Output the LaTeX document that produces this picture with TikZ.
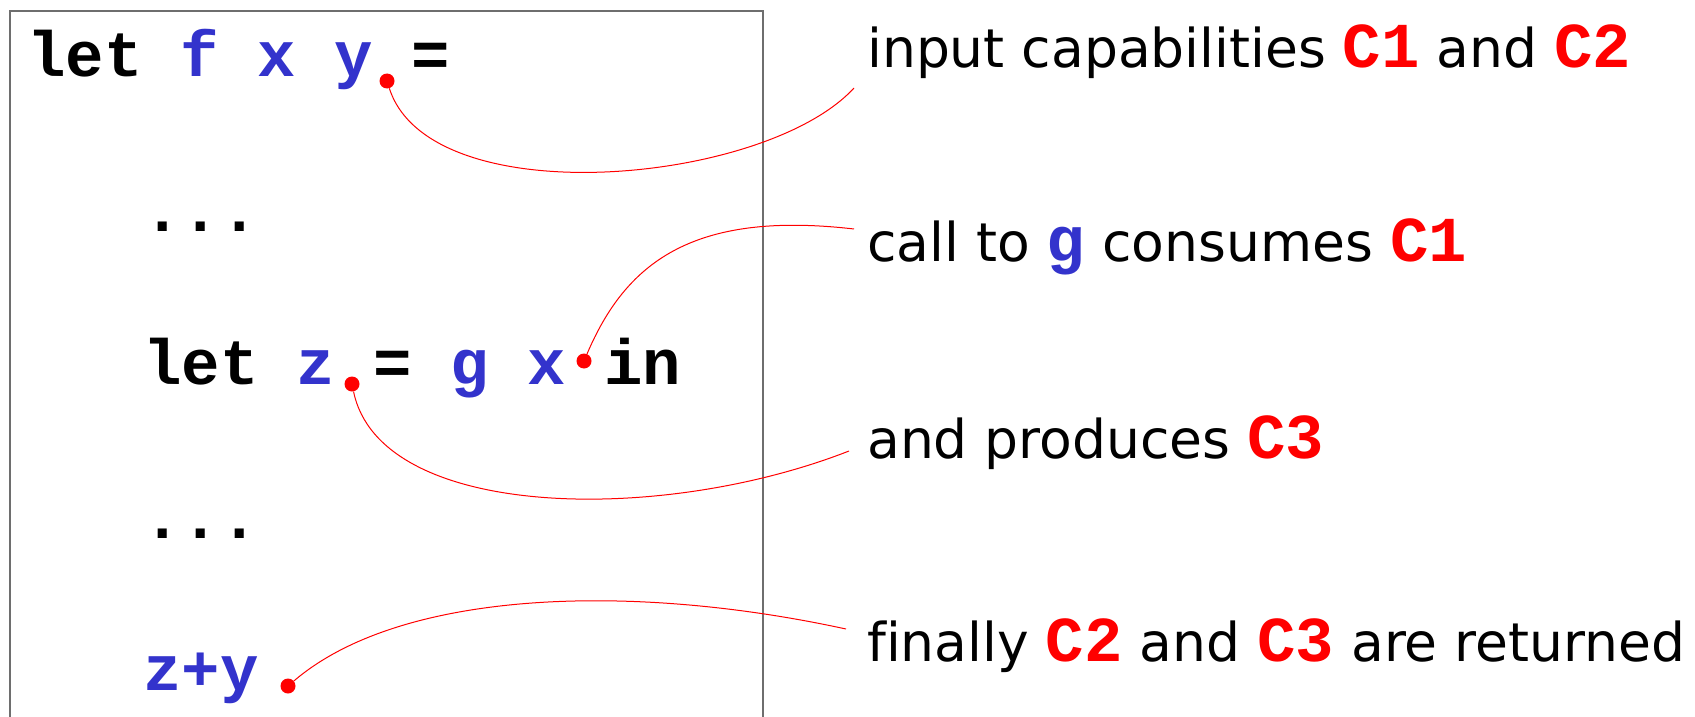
\documentclass[tikz,border=0pt]{standalone}
\usepackage{fontspec}
\setmainfont{DejaVu Sans}[Ligatures=NoCommon]
\newfontfamily\codefont{Liberation Mono}
\definecolor{codeblue}{RGB}{51,51,204}
\definecolor{framegray}{RGB}{110,110,110}
\newcommand\cvar[1]{\textcolor{codeblue}{#1}}
\newcommand\capc[1]{\textcolor{red}{\codefont\bfseries\fontsize{64}{70}\selectfont #1}}
\begin{document}
\begin{tikzpicture}[x=1pt,y=-1pt,
  code/.style={anchor=base west, inner sep=0pt, font=\codefont\bfseries\fontsize{64}{70}\selectfont},
  lab/.style={anchor=base west, inner sep=0pt, font=\fontsize{53.5}{60}\selectfont},
  dotc/.style={circle, fill=red, draw=none, minimum size=15pt, inner sep=0pt},
  link/.style={red, line width=1pt}]
\useasboundingbox (0,0) rectangle (1695,717);
% frame
\draw[framegray, line width=1.2pt] (10,717) -- (10,11) -- (763,11) -- (763,717);
% code
\node[code] (code1) at (27,77) {let \cvar{f x y} =};
\node[code] (code2) at (143,231) {...};
\node[code] (code3) at (143,384) {let \cvar{z} = \cvar{g x} in};
\node[code] (code4) at (143,538) {...};
\node[code] (code5) at (143,690) {\cvar{z+y}};
% dots
\node[dotc] (d1) at (387,81) {};
\node[dotc] (d2) at (584,361) {};
\node[dotc] (d3) at (352,384) {};
\node[dotc] (d4) at (288,686) {};
% labels
\node[lab] (lab1) at (867,67) {input capabilities \capc{C1} and \capc{C2}};
\node[lab] (lab2) at (867,261) {call to \textcolor{codeblue}{\codefont\bfseries\fontsize{64}{70}\selectfont g} consumes \capc{C1}};
\node[lab] (lab3) at (867,458) {and produces \capc{C3}};
\node[lab] (lab4) at (867,661) {finally \capc{C2} and \capc{C3} are returned};
% free ends
\coordinate (e1) at (854,88);
\coordinate (e2) at (854,229);
\coordinate (e3) at (849,451);
\coordinate (e4) at (846,629);
% links
\draw[link] (d1) .. controls (430,215) and (765,185) .. (e1);
\draw[link] (d2) .. controls (625,265) and (690,210) .. (e2);
\draw[link] (d3) .. controls (380,520) and (660,525) .. (e3);
\draw[link] (d4) .. controls (400,590) and (630,582) .. (e4);
\end{tikzpicture}
\end{document}
